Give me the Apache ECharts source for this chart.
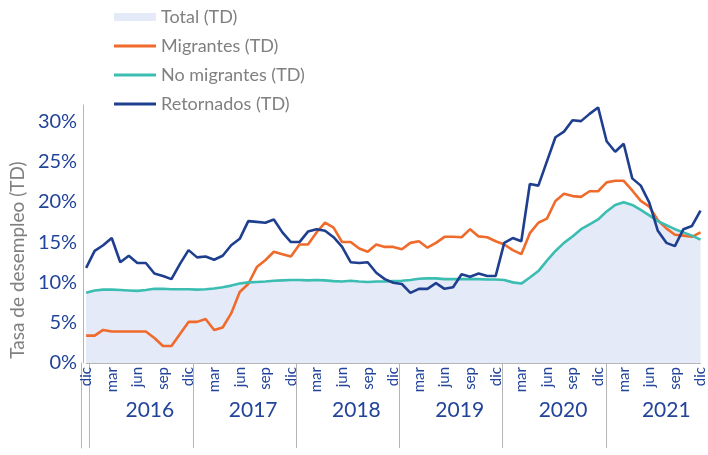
<!DOCTYPE html>
<html>
<head>
<meta charset="utf-8">
<script src="https://cdn.jsdelivr.net/npm/echarts@6/dist/echarts.min.js"></script>
<style>html,body{margin:0;padding:0;background:#fff}#c{width:708px;height:455px}</style>
</head>
<body>
<div id="c"></div>
<script>
// Categories: monthly, dic 2015 .. dic 2021 (73 points)
const monthNames = ['ene','feb','mar','abr','may','jun','jul','ago','sep','oct','nov','dic'];
const months = ['dic'];
for (let y = 0; y < 6; y++) for (let m = 0; m < 12; m++) months.push(monthNames[m]);
const years = ['2016','2017','2018','2019','2020','2021'];

const total = [
 8.7,9.0,9.1,9.1,9.05,9.0,8.95,9.05,9.2,9.2,9.15,9.15,9.15,
 9.1,9.15,9.25,9.4,9.6,9.85,10.0,10.05,10.1,10.2,10.25,10.3,
 10.3,10.25,10.3,10.25,10.15,10.1,10.2,10.1,10.05,10.1,10.1,10.15,
 10.2,10.3,10.45,10.5,10.5,10.4,10.4,10.4,10.4,10.4,10.35,10.35,
 10.3,10.0,9.85,10.6,11.4,12.7,13.9,14.9,15.7,16.6,17.2,17.8,
 18.8,19.6,19.95,19.6,19.0,18.3,17.6,17.1,16.6,16.2,15.8,15.3
];
const migrantes = [
 3.4,3.4,4.1,3.9,3.9,3.9,3.9,3.9,3.1,2.1,2.1,3.6,5.1,
 5.1,5.45,4.1,4.4,6.15,8.8,9.8,11.9,12.75,13.8,13.5,13.2,
 14.7,14.7,16.2,17.4,16.8,15.0,15.0,14.2,13.8,14.7,14.4,14.4,
 14.1,14.9,15.1,14.3,14.9,15.65,15.65,15.6,16.6,15.7,15.6,15.1,
 14.7,14.0,13.5,16.1,17.4,17.9,20.1,21.0,20.7,20.6,21.3,21.3,
 22.4,22.6,22.6,21.4,20.1,19.4,17.7,16.7,15.9,15.8,15.65,16.2
];
const noMigrantes = [
 8.7,9.0,9.1,9.1,9.05,9.0,8.95,9.05,9.2,9.2,9.15,9.15,9.15,
 9.1,9.15,9.25,9.4,9.6,9.85,10.0,10.05,10.1,10.2,10.25,10.3,
 10.3,10.25,10.3,10.25,10.15,10.1,10.2,10.1,10.05,10.1,10.1,10.15,
 10.2,10.3,10.45,10.5,10.5,10.4,10.4,10.4,10.4,10.4,10.35,10.35,
 10.3,10.0,9.85,10.6,11.4,12.7,13.9,14.9,15.7,16.6,17.2,17.8,
 18.8,19.6,19.95,19.6,19.0,18.3,17.6,17.1,16.6,16.2,15.8,15.3
];
const retornados = [
 11.8,13.9,14.6,15.5,12.5,13.3,12.4,12.4,11.1,10.8,10.4,12.3,14.0,
 13.1,13.2,12.8,13.3,14.6,15.4,17.6,17.5,17.4,17.8,16.2,15.0,
 15.0,16.3,16.6,16.4,15.6,14.4,12.5,12.4,12.5,11.2,10.4,9.95,
 9.8,8.7,9.2,9.2,9.9,9.2,9.4,11.0,10.7,11.1,10.8,10.8,
 14.9,15.5,15.1,22.2,22.0,25.0,28.0,28.7,30.1,30.0,30.9,31.7,
 27.5,26.2,27.2,22.9,22.0,19.9,16.4,14.9,14.5,16.6,17.0,18.9
];

// Year axis (half-month resolution) built from years
const HALF = 146;
const yearCats = new Array(HALF).fill('');
years.forEach((y, j) => { yearCats[16 + 24 * j] = y; });

const FONT = 'Lato, "Open Sans", sans-serif';
const NAVY = '#22449a';
const GREY = '#b5b5b5';
const LINE_ICON = 'path://M0,0 L42,0 L42,3 L0,3 Z';

const chart = echarts.init(document.getElementById('c'), null, {renderer: 'canvas'});
chart.setOption({
  animation: false,
  textStyle: {fontFamily: FONT},
  legend: {
    orient: 'vertical', left: 114, top: 8, padding: 0,
    itemWidth: 42, itemHeight: 8, itemGap: 11,
    textStyle: {color: '#808080', fontSize: 18, fontFamily: FONT},
    data: [
      {name: 'Total (TD)', icon: 'rect'},
      {name: 'Migrantes (TD)', icon: LINE_ICON},
      {name: 'No migrantes (TD)', icon: LINE_ICON},
      {name: 'Retornados (TD)', icon: LINE_ICON}
    ]
  },
  grid: [
    {left: 84, right: 3, top: 105, bottom: 92},
    {left: 81, right: 3, top: 363, bottom: 7}
  ],
  xAxis: [
    {
      type: 'category', gridIndex: 0, data: months, boundaryGap: false,
      axisLine: {show: true, lineStyle: {color: GREY, width: 1}},
      axisTick: {show: false},
      axisLabel: {
        rotate: 90, margin: 4, color: NAVY, fontSize: 15, fontFamily: FONT,
        interval: (i) => i % 3 === 0
      }
    },
    {
      type: 'category', gridIndex: 1, data: yearCats, boundaryGap: false,
      position: 'bottom',
      axisLine: {show: false},
      axisTick: {show: true, inside: true, length: 85, interval: (i) => i % 24 === 2,
                 lineStyle: {color: GREY, width: 1}},
      axisLabel: {show: true, inside: true, margin: 27, color: NAVY, fontSize: 21, fontFamily: FONT,
                  interval: (i) => yearCats[i] !== ''}
    }
  ],
  yAxis: [
    {
      type: 'value', gridIndex: 0, min: 0, max: 32, interval: 5, offset: 3,
      name: 'Tasa de desempleo (TD)', nameLocation: 'middle', nameGap: 56,
      nameTextStyle: {color: '#808080', fontSize: 19, fontFamily: FONT, padding: [0, 52, 0, 0]},
      axisLine: {show: true, lineStyle: {color: GREY, width: 1}},
      axisTick: {show: false},
      splitLine: {show: false},
      axisLabel: {color: NAVY, fontSize: 20, margin: 6, fontFamily: FONT,
                  showMaxLabel: false, formatter: '{value}%'}
    },
    {
      type: 'value', gridIndex: 1, min: 0, max: 1,
      axisLine: {show: true, lineStyle: {color: GREY, width: 1}},
      axisTick: {show: false}, axisLabel: {show: false}, splitLine: {show: false}
    }
  ],
  series: [
    {
      name: 'Total (TD)', type: 'line', data: total, symbol: 'none',
      itemStyle: {color: '#e4eaf8'},
      lineStyle: {width: 0, color: '#e4eaf8'},
      areaStyle: {color: '#e4eaf8', opacity: 1}
    },
    {
      name: 'Migrantes (TD)', type: 'line', data: migrantes, symbol: 'none',
      itemStyle: {color: '#ef6a2b'}, lineStyle: {width: 2.6, color: '#ef6a2b'}
    },
    {
      name: 'No migrantes (TD)', type: 'line', data: noMigrantes, symbol: 'none',
      itemStyle: {color: '#3bbdb1'}, lineStyle: {width: 2.6, color: '#3bbdb1'}
    },
    {
      name: 'Retornados (TD)', type: 'line', data: retornados, symbol: 'none',
      itemStyle: {color: '#1e3e8e'}, lineStyle: {width: 2.6, color: '#1e3e8e'}
    }
  ]
});
</script>
</body>
</html>
